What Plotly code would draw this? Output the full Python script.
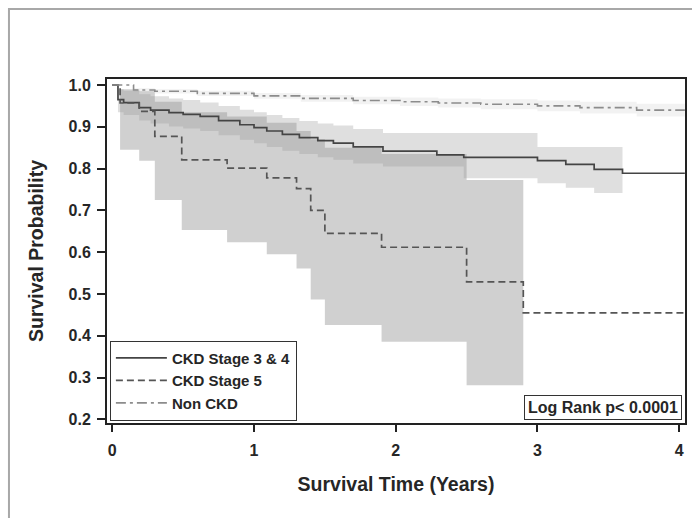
import plotly.graph_objects as go

# ---------------- data ----------------
x_end = 4.04

ckd34_t = [0, 0.04, 0.08, 0.19, 0.27, 0.40, 0.50, 0.62, 0.75, 0.90, 1.00, 1.09,
           1.20, 1.32, 1.45, 1.56, 1.70, 1.91, 2.29, 2.48, 3.00, 3.20, 3.40, 3.60]
ckd34_s = [1.0, 0.965, 0.958, 0.946, 0.940, 0.934, 0.930, 0.925, 0.915, 0.905, 0.898, 0.890,
           0.882, 0.874, 0.867, 0.861, 0.852, 0.842, 0.833, 0.827, 0.819, 0.810, 0.798, 0.789]
ckd34_upper = [1.0, 0.99, 0.986, 0.978, 0.973, 0.968, 0.964, 0.958, 0.950, 0.941, 0.935, 0.928,
               0.921, 0.914, 0.908, 0.903, 0.895, 0.885, 0.885, 0.885, 0.852, 0.852, 0.852]
ckd34_lower = [1.0, 0.935, 0.928, 0.915, 0.908, 0.901, 0.896, 0.890, 0.880, 0.869, 0.861, 0.852,
               0.843, 0.835, 0.827, 0.821, 0.812, 0.805, 0.805, 0.777, 0.765, 0.754, 0.742]
ckd34_band_end = 3.60

ckd5_t = [0, 0.055, 0.19, 0.30, 0.49, 0.81, 1.09, 1.30, 1.40, 1.50, 1.90, 2.50, 2.90]
ckd5_s = [1.0, 0.957, 0.937, 0.877, 0.821, 0.801, 0.778, 0.752, 0.700, 0.645, 0.612, 0.529, 0.455]
ckd5_upper = [1.0, 0.99, 0.985, 0.96, 0.935, 0.925, 0.91, 0.89, 0.87, 0.85, 0.835, 0.773]
ckd5_lower = [1.0, 0.845, 0.819, 0.725, 0.653, 0.624, 0.595, 0.561, 0.487, 0.426, 0.386, 0.282]
ckd5_band_end = 2.90

non_t = [0, 0.15, 0.30, 0.60, 1.00, 1.33, 1.70, 2.03, 2.30, 2.60, 3.00, 3.30, 3.70]
non_s = [1.0, 0.988, 0.985, 0.980, 0.974, 0.968, 0.963, 0.960, 0.957, 0.954, 0.950, 0.946, 0.940]
non_upper = [1.0, 0.992, 0.990, 0.986, 0.981, 0.976, 0.972, 0.970, 0.968, 0.966, 0.963, 0.960, 0.955]
non_lower = [1.0, 0.984, 0.980, 0.974, 0.967, 0.960, 0.954, 0.950, 0.946, 0.942, 0.937, 0.932, 0.925]
non_band_end = 4.04

series_names = ["CKD Stage 3 & 4", "CKD Stage 5", "Non CKD"]
y_ticks = [0.2, 0.3, 0.4, 0.5, 0.6, 0.7, 0.8, 0.9, 1.0]
x_ticks = [0, 1, 2, 3, 4]
pvalue_text = "Log Rank p< 0.0001"


def band_polygon(t, lo, hi, t_end):
    edges = list(t[:len(hi)]) + [t_end]
    xs, ys = [], []
    for i in range(len(hi)):
        xs += [edges[i], edges[i + 1]]
        ys += [hi[i], hi[i]]
    for i in reversed(range(len(lo))):
        xs += [edges[i + 1], edges[i]]
        ys += [lo[i], lo[i]]
    return xs, ys


FONT = "Liberation Sans, Arial, sans-serif"
TXT = "#262626"

fig = go.Figure()

bands = [
    (non_t, non_lower, non_upper, non_band_end, "rgba(150,150,150,0.12)"),
    (ckd5_t, ckd5_lower, ckd5_upper, ckd5_band_end, "rgba(150,150,150,0.45)"),
    (ckd34_t, ckd34_lower, ckd34_upper, ckd34_band_end, "rgba(150,150,150,0.30)"),
]
for t, lo, hi, te, col in bands:
    bx, by = band_polygon(t, lo, hi, te)
    fig.add_trace(go.Scatter(x=bx, y=by, mode="lines", fill="toself", fillcolor=col,
                             line=dict(width=0), showlegend=False, hoverinfo="skip"))

lines = [
    (ckd34_t, ckd34_s, series_names[0], "#444444", "solid", 1.7),
    (ckd5_t, ckd5_s, series_names[1], "#555555", "7px,4px", 1.7),
    (non_t, non_s, series_names[2], "#8c8c8c", "10px,4px,3px,4px", 1.6),
]
for t, s, name, col, dash, w in lines:
    fig.add_trace(go.Scatter(x=list(t) + [x_end], y=list(s) + [s[-1]], mode="lines",
                             line=dict(color=col, dash=dash, width=w, shape="hv"),
                             name=name))

fig.add_annotation(text=pvalue_text, xref="paper", yref="paper", x=1, y=0,
                   xanchor="right", yanchor="bottom", xshift=-3, yshift=3,
                   showarrow=False, bordercolor="#333", borderwidth=1, borderpad=3,
                   bgcolor="white", font=dict(family=FONT, size=16, color=TXT, weight="bold"))

# outer gray frame of the original figure
fig.add_shape(type="path", xref="paper", yref="paper",
              path="M -0.1696,-0.35 L -0.1696,1.2038 L 1.06,1.2038",
              line=dict(color="#a8a8a8", width=2))

fig.update_layout(
    width=692, height=518,
    margin=dict(l=107, r=7, t=79, b=95),
    paper_bgcolor="white", plot_bgcolor="white",
    font=dict(family=FONT, color=TXT),
    legend=dict(x=0.005, y=0.007, xanchor="left", yanchor="bottom",
                bgcolor="white", bordercolor="#333", borderwidth=1,
                font=dict(family=FONT, size=15, color=TXT, weight="bold"),
                itemwidth=51, tracegroupgap=0),
    showlegend=True,
)
fig.update_xaxes(range=[-0.0374, 4.041], tickvals=x_ticks, showgrid=False, zeroline=False,
                 showline=True, linecolor="#222", linewidth=2, mirror=True,
                 ticks="outside", ticklen=7, tickwidth=1.5, tickcolor="#222",
                 ticklabelstandoff=5,
                 tickfont=dict(family=FONT, size=16, color=TXT, weight="bold"),
                 automargin=False,
                 title=dict(text="Survival Time (Years)", standoff=19,
                            font=dict(family=FONT, size=19.5, color=TXT, weight="bold")))
fig.update_yaxes(range=[0.1916, 1.0144], tickvals=y_ticks, tickformat=".1f",
                 showgrid=False, zeroline=False,
                 showline=True, linecolor="#222", linewidth=2, mirror=True,
                 ticks="outside", ticklen=8, tickwidth=1.5, tickcolor="#222",
                 ticklabelstandoff=3,
                 tickfont=dict(family=FONT, size=16, color=TXT, weight="bold"),
                 automargin=False,
                 title=dict(text="Survival Probability", standoff=20,
                            font=dict(family=FONT, size=19.5, color=TXT, weight="bold")))

fig.write_html("out.html", config={"displayModeBar": False},
               post_script="document.body.style.margin='0';document.body.style.overflow='hidden';")
